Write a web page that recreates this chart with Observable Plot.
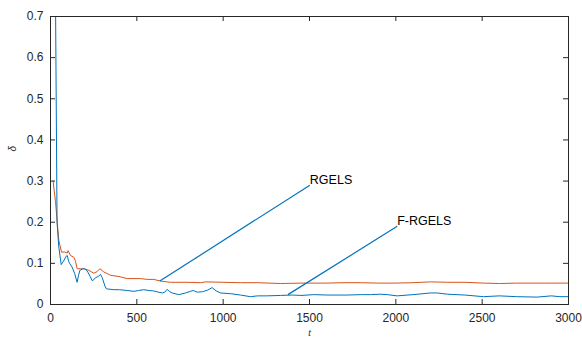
<!DOCTYPE html>
<html>
<head>
<meta charset="utf-8">
<script src="https://cdn.jsdelivr.net/npm/d3@7"></script>
<script src="https://cdn.jsdelivr.net/npm/@observablehq/plot@0.6"></script>
<style>
  html, body { margin: 0; padding: 0; background: #fff; }
  #chart { width: 582px; height: 341px; }
</style>
</head>
<body>
<div id="chart"></div>
<script>
// F-RGELS (blue) series: t and delta
const blueT = [28, 38, 48, 62, 75, 90, 97, 105, 112, 125, 140, 154, 162, 170, 185, 193, 205, 216, 230, 241, 250, 260, 275, 290, 300, 315, 324, 345, 367, 400, 444, 483, 510, 540, 570, 598, 625, 647, 662, 676, 690, 705, 743, 782, 810, 827, 850, 880, 910, 936, 960, 985, 1050, 1100, 1158, 1200, 1250, 1332, 1400, 1450, 1525, 1600, 1718, 1800, 1853, 1911, 1950, 2008, 2100, 2200, 2240, 2300, 2400, 2508, 2600, 2700, 2819, 2900, 2950, 3000];
const blueV = [0.8, 0.2, 0.14, 0.097, 0.105, 0.117, 0.119, 0.105, 0.099, 0.091, 0.075, 0.054, 0.07, 0.083, 0.086, 0.087, 0.085, 0.079, 0.068, 0.058, 0.06, 0.065, 0.068, 0.073, 0.065, 0.045, 0.038, 0.037, 0.036, 0.036, 0.034, 0.032, 0.034, 0.036, 0.034, 0.033, 0.030, 0.028, 0.030, 0.037, 0.031, 0.028, 0.024, 0.028, 0.032, 0.034, 0.030, 0.031, 0.035, 0.041, 0.033, 0.028, 0.026, 0.023, 0.019, 0.021, 0.021, 0.022, 0.023, 0.022, 0.024, 0.023, 0.023, 0.024, 0.024, 0.025, 0.024, 0.021, 0.024, 0.028, 0.028, 0.025, 0.023, 0.019, 0.021, 0.019, 0.018, 0.021, 0.019, 0.019];
// RGELS (orange) series
const orangeT = [15, 29, 39, 48, 64, 80, 97, 102, 116, 135, 145, 154, 174, 193, 222, 251, 270, 286, 309, 348, 396, 444, 521, 560, 598, 637, 695, 791, 869, 900, 1000, 1100, 1200, 1332, 1450, 1600, 1700, 1800, 1900, 2000, 2100, 2200, 2300, 2400, 2508, 2600, 2700, 2800, 2900, 3000];
const orangeV = [0.3, 0.25, 0.2, 0.156, 0.127, 0.128, 0.125, 0.131, 0.119, 0.115, 0.105, 0.087, 0.087, 0.087, 0.083, 0.076, 0.08, 0.087, 0.079, 0.071, 0.068, 0.063, 0.063, 0.061, 0.061, 0.057, 0.054, 0.054, 0.053, 0.055, 0.054, 0.053, 0.053, 0.051, 0.052, 0.052, 0.053, 0.053, 0.052, 0.052, 0.053, 0.055, 0.054, 0.054, 0.052, 0.051, 0.052, 0.052, 0.052, 0.052];
// annotations
const annLabels = ["RGELS", "F-RGELS"];
const annFromT = [633, 1375];
const annFromV = [0.057, 0.024];
const annToT = [1502, 2008];
const annToV = [0.29, 0.19];
// ticks
const xTicks = [0, 500, 1000, 1500, 2000, 2500, 3000];
const yTicks = [0, 0.1, 0.2, 0.3, 0.4, 0.5, 0.6, 0.7];

const blue = blueT.map((t, i) => ({t, v: blueV[i]}));
const orange = orangeT.map((t, i) => ({t, v: orangeV[i]}));
const ann = annLabels.map((label, i) => ({label, x1: annFromT[i], y1: annFromV[i], x2: annToT[i], y2: annToV[i]}));

const W = 582, H = 341, ML = 50, MR = 14, MT = 16, MB = 37;
const innerW = W - ML - MR, innerH = H - MT - MB;
const axisColor = "#262626";
const tl = 5;

const chart = Plot.plot({
  width: W, height: H,
  marginLeft: ML, marginRight: MR, marginTop: MT, marginBottom: MB,
  style: {fontFamily: "'Liberation Sans', Arial, sans-serif", background: "#fff", overflow: "visible"},
  x: {domain: [0, 3000]},
  y: {domain: [0, 0.7]},
  marks: [
    Plot.axisX(xTicks, {tickSize: 0, tickPadding: 9, fontSize: 12, color: axisColor, label: null, tickFormat: d => String(d)}),
    Plot.axisY(yTicks, {tickSize: 0, tickPadding: 7, fontSize: 12, color: axisColor, label: null, tickFormat: d => String(+d.toFixed(1))}),
    Plot.line(orange, {x: "t", y: "v", stroke: "#D95319", strokeWidth: 1, clip: true}),
    Plot.line(blue, {x: "t", y: "v", stroke: "#0072BD", strokeWidth: 1, clip: true}),
    Plot.link(ann, {x1: "x1", y1: "y1", x2: "x2", y2: "y2", stroke: "#0072BD", strokeWidth: 1.2}),
    Plot.text(ann, {x: "x2", y: "y2", text: "label", textAnchor: "start", lineAnchor: "bottom", dx: 0, dy: -1, fontSize: 12.5, fill: "#000"}),
    // inward ticks
    Plot.tickX(xTicks, {x: d => d, insetTop: innerH - tl, stroke: axisColor}),
    Plot.tickX(xTicks, {x: d => d, insetBottom: innerH - tl, stroke: axisColor}),
    Plot.tickY(yTicks, {y: d => d, insetRight: innerW - tl, stroke: axisColor}),
    Plot.tickY(yTicks, {y: d => d, insetLeft: innerW - tl, stroke: axisColor}),
    Plot.frame({stroke: axisColor, strokeWidth: 1}),
    Plot.text(["t"], {text: d => d, frameAnchor: "bottom", dy: 31, fontSize: 9, fontStyle: "italic", fill: axisColor}),
    Plot.text(["δ"], {text: d => d, frameAnchor: "left", dx: -38, dy: -9, rotate: -90, fontSize: 10, fontStyle: "italic", fill: axisColor})
  ]
});
document.getElementById("chart").appendChild(chart);
</script>
</body>
</html>
